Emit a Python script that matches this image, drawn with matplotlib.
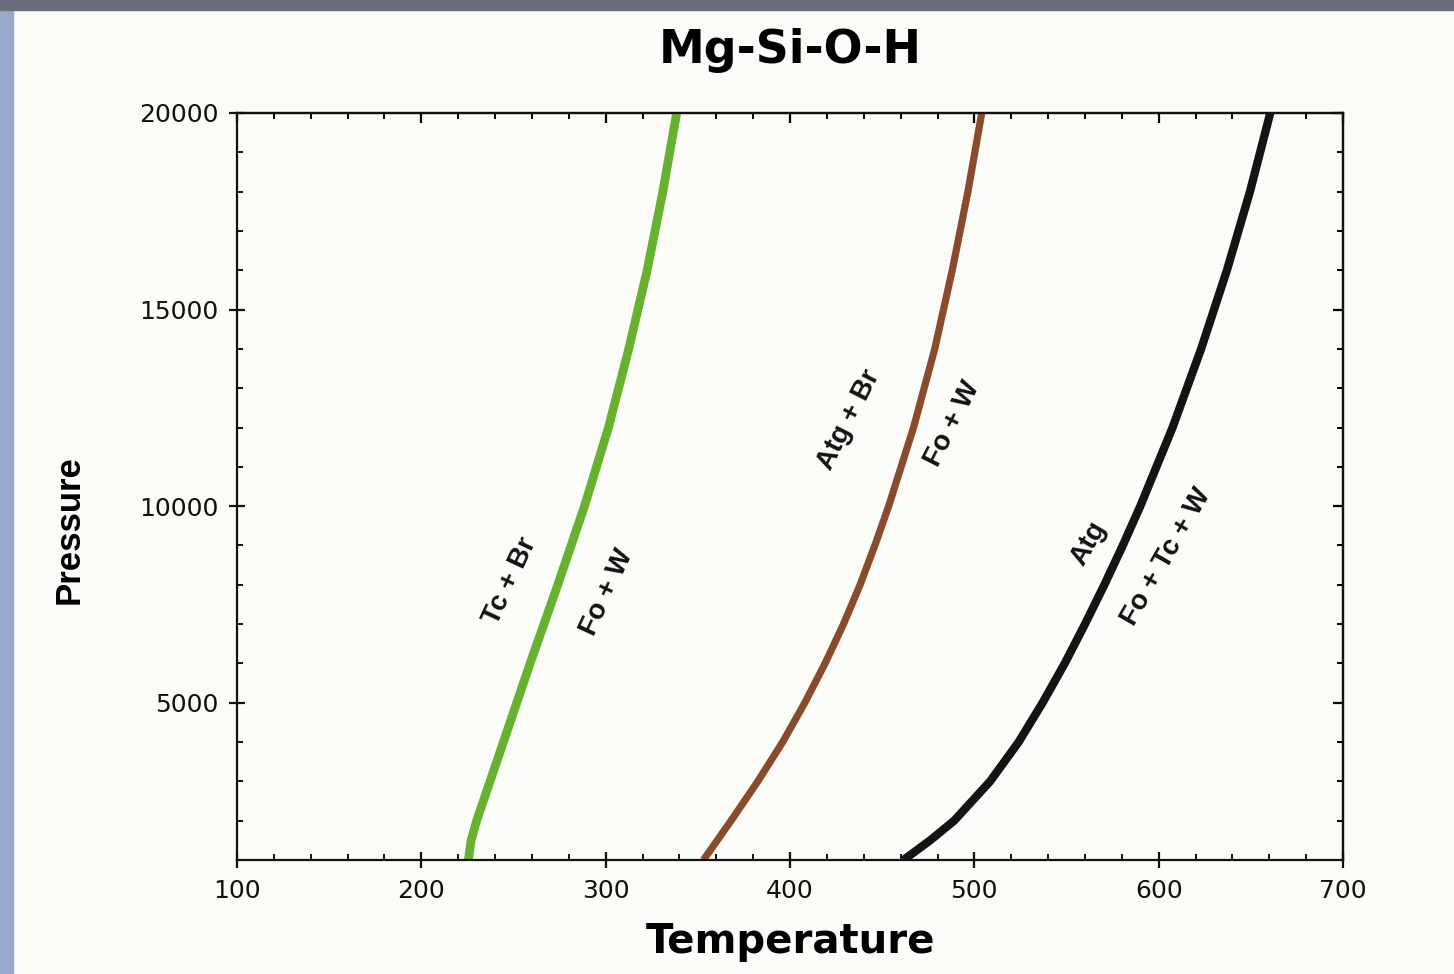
import matplotlib
matplotlib.use('Agg')
import matplotlib.pyplot as plt
from matplotlib.ticker import MultipleLocator, NullFormatter
from matplotlib.patches import Rectangle

# phase boundaries: temperature (C) vs pressure (bar)
tc_br_T = [225.5, 227, 230, 244.5, 259, 274, 288.5, 301.5, 312.5, 317.5, 322.5, 331, 338.5]
tc_br_P = [1000, 1500, 2000, 4000, 6000, 8000, 10000, 12000, 14000, 15000, 16000, 18000, 20000]

atg_br_T = [353, 368, 382.5, 396, 408, 419, 429, 438, 446, 453.5, 467, 478.5, 488, 496.5, 504]
atg_br_P = [1000, 2000, 3000, 4000, 5000, 6000, 7000, 8000, 9000, 10000, 12000, 14000, 16000, 18000, 20000]

atg_T = [461.5, 476, 489, 508.5, 524, 537, 549, 560, 570.5, 580.5, 590, 607.5, 623, 637, 649.5, 660.5]
atg_P = [1000, 1500, 2000, 3000, 4000, 5000, 6000, 7000, 8000, 9000, 10000, 12000, 14000, 16000, 18000, 20000]

# field labels: text, T, P, rotation
labels = [
    ('Tc + Br', 248, 8100, 65),
    ('Fo + W', 301, 7800, 65),
    ('Atg + Br', 432, 12200, 63),
    ('Fo + W', 488, 12100, 63),
    ('Atg', 562, 9050, 60),
    ('Fo + Tc + W', 604, 8700, 60),
]

bg = '#fbfbf8'
fig = plt.figure(figsize=(14.54, 9.74), dpi=100, facecolor=bg)
ax = fig.add_axes([0.163, 0.117, 0.7607, 0.767], facecolor=bg)

# scan edges
fig.patches.append(Rectangle((0, 0), 0.009, 1, transform=fig.transFigure,
                             color='#9aa8cc', zorder=0))
fig.patches.append(Rectangle((0, 0.99), 1, 0.01, transform=fig.transFigure,
                             color='#6a6e7a', zorder=0))

ax.plot(tc_br_T, tc_br_P, color='#66b22e', lw=6.3, solid_capstyle='butt',
        solid_joinstyle='round')
ax.plot(atg_br_T, atg_br_P, color='#8a4a2c', lw=5.2, solid_capstyle='butt',
        solid_joinstyle='round')
ax.plot(atg_T, atg_P, color='#141414', lw=6, solid_capstyle='butt',
        solid_joinstyle='round')

narrow = ['Liberation Sans', 'DejaVu Sans']
for txt, t, p, rot in labels:
    ax.text(t, p, txt, rotation=rot, ha='center', va='center',
            rotation_mode='anchor', fontsize=20, fontweight='bold',
            family=narrow, color='#111111')

ax.set_xlim(100, 700)
ax.set_ylim(1000, 20000)
ax.xaxis.set_major_locator(MultipleLocator(100))
ax.xaxis.set_minor_locator(MultipleLocator(20))
ax.set_yticks([5000, 10000, 15000, 20000])
ax.yaxis.set_minor_locator(MultipleLocator(1000))

for s in ax.spines.values():
    s.set_linewidth(1.6)
    s.set_color('#111111')

ax.tick_params(which='major', direction='inout', length=11, width=1.6,
               labelsize=18, pad=8, colors='#111111')
ax.tick_params(which='minor', direction='in', length=4.5, width=1.4,
               colors='#111111')

# top and right ticks point inward only
top = ax.secondary_xaxis('top')
top.xaxis.set_major_locator(MultipleLocator(100))
top.xaxis.set_minor_locator(MultipleLocator(20))
top.xaxis.set_major_formatter(NullFormatter())
top.tick_params(which='major', direction='in', length=7, width=1.6)
top.tick_params(which='minor', direction='in', length=4.5, width=1.4)
right = ax.secondary_yaxis('right')
right.yaxis.set_major_locator(MultipleLocator(5000))
right.yaxis.set_minor_locator(MultipleLocator(1000))
right.yaxis.set_major_formatter(NullFormatter())
right.tick_params(which='major', direction='in', length=7, width=1.6)
right.tick_params(which='minor', direction='in', length=4.5, width=1.4)
for sec in (top, right):
    for s in sec.spines.values():
        s.set_linewidth(1.6)

ax.set_title('Mg-Si-O-H', fontsize=33, fontweight='bold', pad=36)
ax.set_xlabel('Temperature', fontsize=29, fontweight='bold', labelpad=14)
ax.set_ylabel('Pressure', fontsize=25, fontweight='bold', family=narrow)
ax.yaxis.set_label_coords(-0.137, 0.442)

plt.savefig('out.png', dpi=100, facecolor=bg)
